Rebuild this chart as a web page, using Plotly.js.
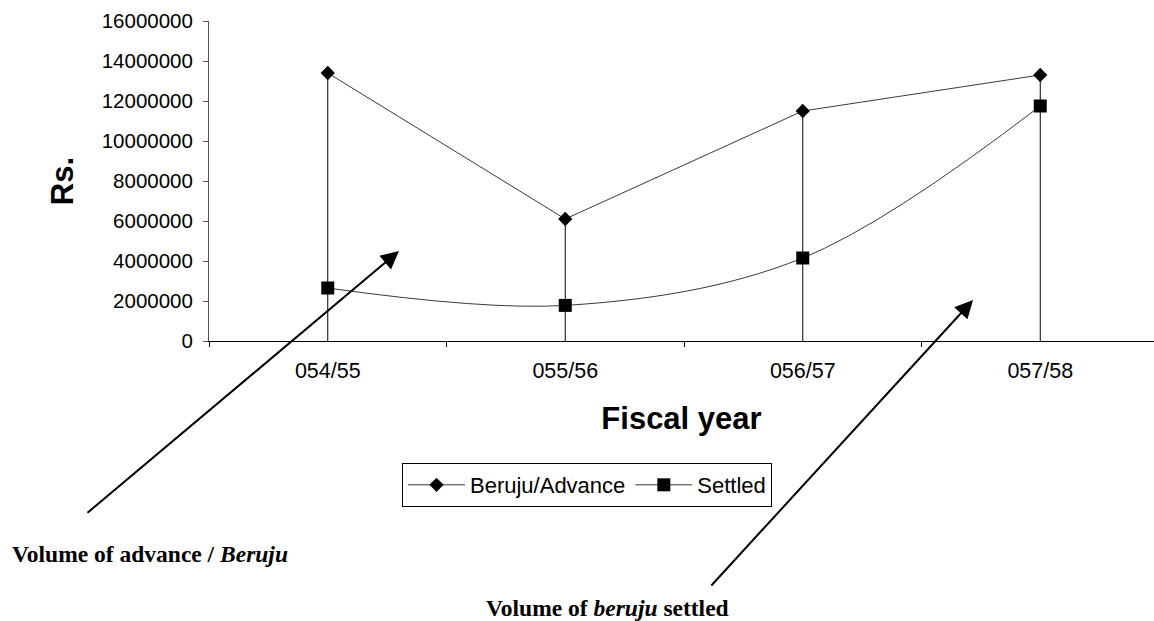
<!DOCTYPE html>
<html>
<head>
<meta charset="utf-8">
<script src="https://cdn.plot.ly/plotly-3.0.1.min.js"></script>
<style>
  html, body { margin: 0; padding: 0; background: #fff; overflow: hidden; }
  #chart { width: 1154px; height: 621px; }
</style>
</head>
<body>
<div id="chart"></div>
<script>
// Fiscal years (Nepali calendar) and amounts in rupees
const fiscalYears = ["054/55", "055/56", "056/57", "057/58"];
const berujuAdvance = [13400000, 6100000, 11500000, 13300000];
const settled = [2650000, 1780000, 4150000, 11750000];
const yTicks = [0, 2000000, 4000000, 6000000, 8000000, 10000000, 12000000, 14000000, 16000000];

// plot-area geometry in pixels, used to place the free-standing notes
const PLOT_L = 209, PLOT_T = 21, PLOT_W = 945, PLOT_H = 320;
const px = x => (x - PLOT_L) / PLOT_W;
const py = y => (PLOT_T + PLOT_H - y) / PLOT_H;

const sans = "Liberation Sans, Arial, sans-serif";
const serif = "Liberation Serif, Times New Roman, serif";

const traces = [
  {
    name: "Beruju/Advance",
    x: fiscalYears,
    y: berujuAdvance,
    type: "scatter",
    mode: "lines+markers",
    line: { color: "#3a3a3a", width: 1 },
    marker: { symbol: "diamond", size: 11, color: "#000" },
    // drop lines from each point down to the category axis
    error_y: {
      type: "data", symmetric: false,
      array: berujuAdvance.map(() => 0),
      arrayminus: berujuAdvance,
      width: 0, thickness: 1, color: "#000"
    }
  },
  {
    name: "Settled",
    x: fiscalYears,
    y: settled,
    type: "scatter",
    mode: "lines+markers",
    line: { color: "#3a3a3a", width: 1, shape: "spline", smoothing: 1 },
    marker: { symbol: "square", size: 13, color: "#000" }
  }
];

const layout = {
  width: 1154,
  height: 621,
  margin: { l: PLOT_L, t: PLOT_T, r: 1154 - PLOT_L - PLOT_W, b: 621 - PLOT_T - PLOT_H, pad: 0 },
  paper_bgcolor: "#fff",
  plot_bgcolor: "#fff",
  font: { family: sans, color: "#000" },
  showlegend: true,
  legend: {
    orientation: "h",
    x: px(402), xanchor: "left",
    y: py(463), yanchor: "top",
    bordercolor: "#000", borderwidth: 1,
    font: { size: 22, family: sans },
    itemwidth: 57,
    traceorder: "normal"
  },
  xaxis: {
    type: "category",
    categoryarray: fiscalYears,
    range: [-0.5, -0.5 + PLOT_W / 237.5],
    tickson: "boundaries",
    ticks: "outside", ticklen: 5, tickcolor: "#000",
    showline: true, linecolor: "#000", linewidth: 1,
    showgrid: false, zeroline: false,
    tickfont: { size: 21.5, family: sans },
    ticklabelstandoff: 10,
    title: { text: "<b>Fiscal year</b>", font: { size: 31, family: sans }, standoff: 25 },
    fixedrange: true
  },
  yaxis: {
    range: [0, 16000000],
    tickvals: yTicks,
    tickformat: "d",
    ticks: "outside", ticklen: 5, tickcolor: "#555",
    showline: true, linecolor: "#555", linewidth: 1,
    showgrid: false, zeroline: false,
    tickfont: { size: 20.5, family: sans },
    ticklabelstandoff: 6,
    title: { text: "<b>Rs.</b>", font: { size: 31, family: sans }, standoff: 18 },
    fixedrange: true
  },
  annotations: [
    {
      xref: "paper", yref: "paper",
      x: px(399), y: py(251),
      ax: px(86), ay: py(514), axref: "paper", ayref: "paper",
      showarrow: true, arrowhead: 2, arrowsize: 1.8, arrowwidth: 2, arrowcolor: "#000",
      text: "", standoff: 0
    },
    {
      xref: "paper", yref: "paper",
      x: px(973), y: py(300),
      ax: px(710), ay: py(587), axref: "paper", ayref: "paper",
      showarrow: true, arrowhead: 2, arrowsize: 1.8, arrowwidth: 2, arrowcolor: "#000",
      text: "", standoff: 0
    },
    {
      xref: "paper", yref: "paper",
      x: px(10), y: py(554), xanchor: "left", yanchor: "middle",
      showarrow: false,
      text: "<b>Volume of advance / <i>Beruju</i></b>",
      font: { family: serif, size: 23.5, color: "#000" }
    },
    {
      xref: "paper", yref: "paper",
      x: px(484), y: py(608), xanchor: "left", yanchor: "middle",
      showarrow: false,
      text: "<b>Volume of <i>beruju</i> settled</b>",
      font: { family: serif, size: 23.5, color: "#000" }
    }
  ]
};

Plotly.newPlot("chart", traces, layout, { displayModeBar: false, staticPlot: true });
</script>
</body>
</html>
